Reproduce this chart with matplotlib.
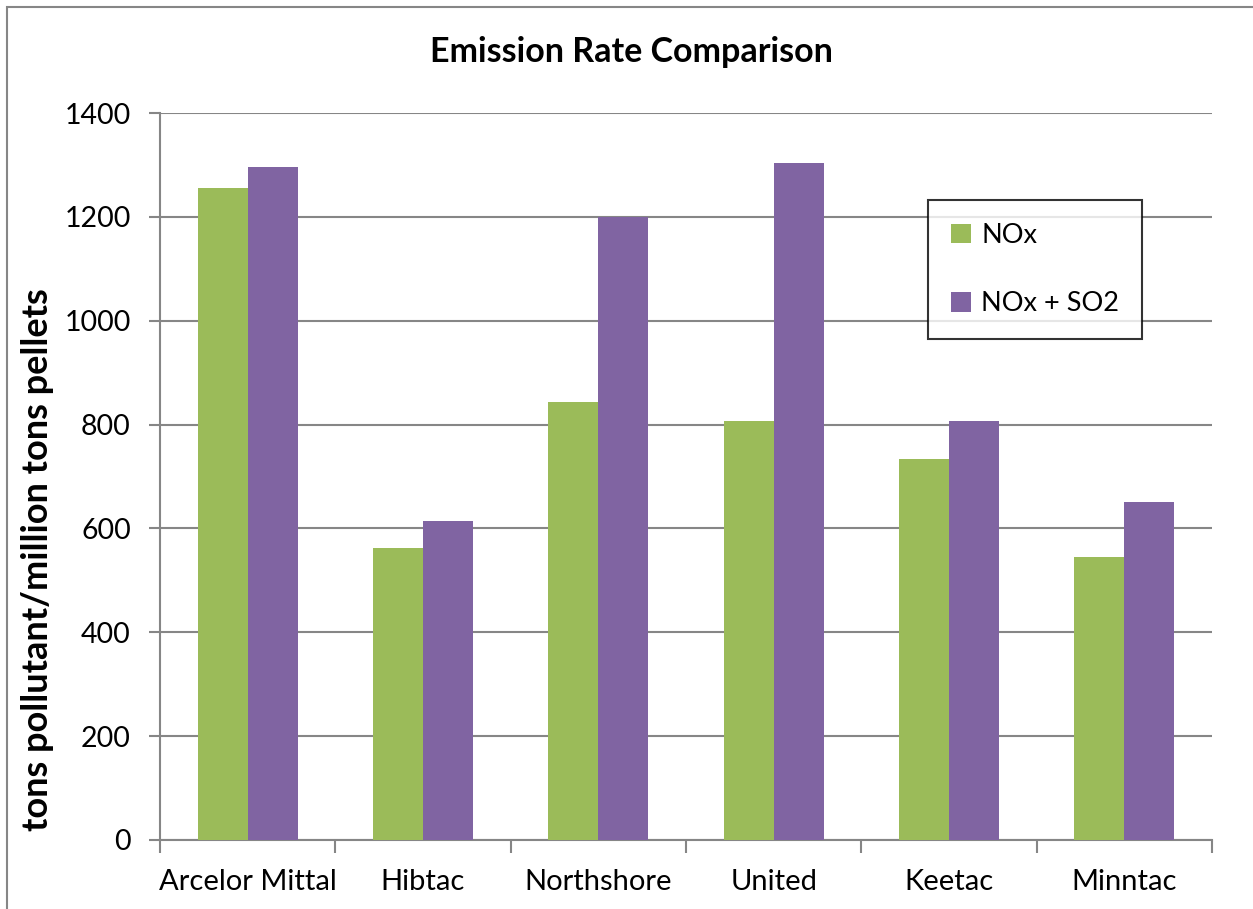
import matplotlib
matplotlib.use("Agg")
import matplotlib.pyplot as plt
from matplotlib.patches import Rectangle
import numpy as np

# Emission data, tons pollutant per million tons of pellets
plants = ["Arcelor Mittal", "Hibtac", "Northshore", "United", "Keetac", "Minntac"]
nox = [1256, 563, 843, 807, 734, 545]
nox_so2 = [1296, 615, 1200, 1303, 807, 650]
series_names = ["NOx", "NOx + SO2"]
y_ticks = [0, 200, 400, 600, 800, 1000, 1200, 1400]

GREEN = "#9BBB59"
PURPLE = "#8064A2"
GRID = "#868686"
FONT = ["Lato", "DejaVu Sans"]

plt.rcParams["font.family"] = FONT

W, H = 1253, 909
fig = plt.figure(figsize=(W / 100, H / 100), dpi=100)
fig.patch.set_facecolor("white")

# chart-area frame
fig.add_artist(Rectangle((7 / W, -0.05), 1.2, 1 - 7 / H + 0.05,
                         transform=fig.transFigure, fill=False,
                         edgecolor="#868686", linewidth=1.5))

ax = fig.add_axes([160 / W, 1 - 840 / H, (1212 - 160) / W, (840 - 113) / H])

x = np.arange(len(plants))
bw = 0.285
ax.bar(x - bw / 2, nox, width=bw, color=GREEN, label=series_names[0], zorder=3)
ax.bar(x + bw / 2, nox_so2, width=bw, color=PURPLE, label=series_names[1], zorder=3)

ax.set_xlim(-0.5, len(plants) - 0.5)
ax.set_ylim(0, 1400)
ax.set_yticks(y_ticks)
ax.set_yticklabels([str(v) for v in y_ticks], fontsize=20.5)
ax.yaxis.grid(True, color=GRID, linewidth=1.5, zorder=0)
ax.set_axisbelow(True)

# category labels centred, ticks at group boundaries
ax.set_xticks(x)
ax.set_xticklabels(plants, fontsize=21)
ax.tick_params(axis="x", which="major", length=0, pad=21)
ax.set_xticks(np.arange(-0.5, len(plants)), minor=True)
ax.tick_params(axis="x", which="minor", length=9, width=1.5, color=GRID)
ax.tick_params(axis="y", length=8, width=1.5, color=GRID, pad=13)

for side in ["top", "right"]:
    ax.spines[side].set_visible(False)
for side in ["left", "bottom"]:
    ax.spines[side].set_color(GRID)
    ax.spines[side].set_linewidth(1.5)

ax.set_ylabel("tons pollutant/million tons pellets", fontsize=26,
              fontweight="bold", labelpad=14)
ax.yaxis.set_label_coords(-(160 - 54) / (1212 - 160), (840 - 560) / (840 - 113))

fig.text((427 + 835) / 2 / W, 1 - 52 / H, "Emission Rate Comparison",
         ha="center", va="center", fontsize=24.5, fontweight="bold")

leg = ax.legend(loc="upper left", bbox_to_anchor=((928 - 160) / (1212 - 160), (840 - 200) / (840 - 113)),
                fontsize=19.5, frameon=True, fancybox=False, edgecolor="black",
                handlelength=0.72, handleheight=0.72, handletextpad=0.4,
                labelspacing=1.6, borderpad=0.85, borderaxespad=0)
leg.get_frame().set_linewidth(1.5)

fig.savefig("out.png", dpi=100, facecolor="white")
